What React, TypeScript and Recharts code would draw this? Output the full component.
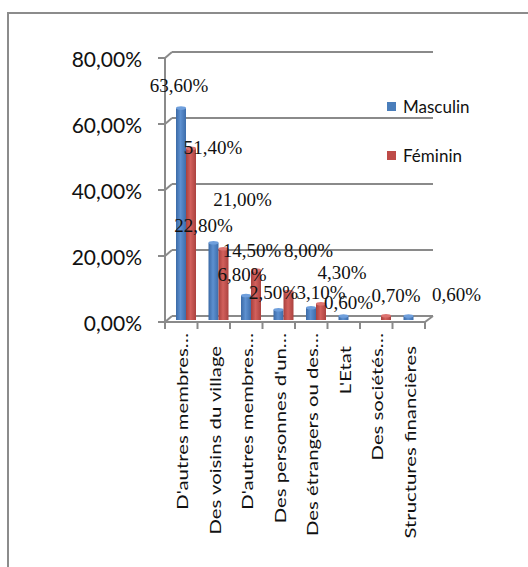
import { Bar, BarChart, CartesianGrid, LabelList, Legend, XAxis, YAxis } from "recharts";

const categories = [
  "D'autres membres…",
  "Des voisins du village",
  "D'autres membres…",
  "Des personnes d'un…",
  "Des étrangers ou des…",
  "L'Etat",
  "Des sociétés…",
  "Structures financières",
];
const masculin = [63.6, 22.8, 6.8, 2.5, 3.1, 0.6, 0, 0.6];
const feminin = [51.4, 21.0, 14.5, 8.0, 4.3, 0, 0.7, 0];
const yTicks = [0, 20, 40, 60, 80];

// excel pushed the data labels around; offsets of label centre from bar top
const masculinLabelShift = [[-2, -23], [-10, -17], [-4, -21], [-5, -17], [10, -15], [5, -14], [0, 0], [48, -22]];
const femininLabelShift = [[22, -1], [19, -49], [-4, -20], [20, -41], [21, -31], [0, 0], [10, -20], [0, 0]];

const data = categories.map((name, i) => ({ name, masculin: masculin[i], feminin: feminin[i] }));

const W = 528;
const H = 567;
const margin = { top: 54, right: 103, bottom: 0, left: 0 };
const Y_AXIS_W = 165;
const PLOT_L = margin.left + Y_AXIS_W;
const PLOT_R = W - margin.right;
const PLOT_B = 318;
const BAND = (PLOT_R - PLOT_L) / categories.length;
const DEPTH_X = 7;
const BACK = -2;
const FRONT = 4;
const GRID = "#8a8a8a";
const BLUE = "#4a7ebb";
const RED = "#be4b48";

const fmt = (v: number) => v.toFixed(2).replace(".", ",") + "%";

const backLine = (p: any) => (
  <line
    key={`grid-${p.index}-${p.y1}`}
    x1={p.x1 + DEPTH_X}
    y1={p.y1 + BACK}
    x2={p.x2 + DEPTH_X + 1}
    y2={p.y2 + BACK}
    stroke={GRID}
    strokeWidth={2}
  />
);

function YTick({ y, payload }: any) {
  const v = payload.value;
  return (
    <g>
      <line x1={PLOT_L - 7} y1={y + FRONT} x2={PLOT_L} y2={y + FRONT} stroke={GRID} strokeWidth={2} />
      <line x1={PLOT_L} y1={y + FRONT} x2={PLOT_L + DEPTH_X} y2={y + BACK} stroke={GRID} strokeWidth={2} />
      {v === 80 && <line x1={PLOT_L} y1={y + FRONT} x2={PLOT_L} y2={PLOT_B + FRONT} stroke={GRID} strokeWidth={2} />}
      {v === 0 && (
        <>
          <line x1={PLOT_L} y1={y + FRONT} x2={PLOT_R} y2={y + FRONT} stroke={GRID} strokeWidth={2} />
          <line x1={PLOT_R} y1={y + FRONT} x2={PLOT_R + DEPTH_X + 1} y2={y + BACK} stroke={GRID} strokeWidth={2} />
        </>
      )}
      <text x={PLOT_L - 23} y={y + 13} textAnchor="end" fontFamily="Lato" fontSize={21} fill="#111">
        {fmt(v)}
      </text>
    </g>
  );
}

function XTick({ x, index, payload }: any) {
  const label: string = payload.value;
  const top = label.endsWith("…") ? 333 : 346;
  return (
    <g>
      <line x1={x - BAND / 2} y1={PLOT_B + FRONT} x2={x - BAND / 2} y2={PLOT_B + FRONT + 7} stroke={GRID} strokeWidth={2} />
      {index === categories.length - 1 && (
        <line x1={x + BAND / 2} y1={PLOT_B + FRONT} x2={x + BAND / 2} y2={PLOT_B + FRONT + 7} stroke={GRID} strokeWidth={2} />
      )}
      <text
        x={0}
        y={0}
        transform={`translate(${x + 1} ${top}) rotate(-90) scale(1.31 1)`}
        textAnchor="end"
        dominantBaseline="central"
        fontFamily="Lato"
        fontSize={15.5}
        fill="#111"
      >
        {label}
      </text>
    </g>
  );
}

const cylinder = (grad: string, cap: string) => (p: any) => {
  const { x, y, width, height } = p;
  if (!height || height <= 0) return <g />;
  const bx = x + 5;
  return (
    <g>
      <rect x={bx} y={y} width={width} height={height + 2} fill={`url(#${grad})`} />
      <ellipse cx={bx + width / 2} cy={y} rx={width / 2} ry={1.8} fill={cap} />
    </g>
  );
};

const makeLabel = (shift: number[][]) => (p: any) => {
  const { x, y, width, value, index } = p;
  if (!value) return null;
  const [dx, dy] = shift[index];
  return (
    <text
      key={`lbl-${index}`}
      x={x + width / 2 + 5 + dx}
      y={y + dy + 6.5}
      textAnchor="middle"
      fontFamily="Liberation Serif"
      fontSize={19}
      fill="#111"
    >
      {fmt(value)}
    </text>
  );
};

function LegendBox() {
  const items = [
    { name: "Masculin", color: BLUE },
    { name: "Féminin", color: RED },
  ];
  return (
    <div style={{ fontFamily: "Lato", fontSize: 17, color: "#111" }}>
      {items.map((it) => (
        <div key={it.name} style={{ display: "flex", alignItems: "center", height: 20, marginBottom: 29 }}>
          <span style={{ width: 9, height: 9, background: it.color, marginLeft: 2, marginRight: 7 }} />
          <span>{it.name}</span>
        </div>
      ))}
    </div>
  );
}

export default function App() {
  return (
    <div style={{ position: "absolute", left: 0, top: 0, width: W, height: H, overflow: "hidden", background: "#fff" }}>
      <div
        style={{
          position: "absolute",
          left: 7,
          top: 12,
          width: 560,
          height: 600,
          border: "2px solid #8c8c8c",
        }}
      />
      <div style={{ position: "absolute", left: 0, top: 0 }}>
        <BarChart width={W} height={H} data={data} margin={margin} barGap={0} barSize={10}>
          <defs>
            <linearGradient id="gBlue" x1="0" y1="0" x2="1" y2="0">
              <stop offset="0" stopColor="#3b6aa6" />
              <stop offset="0.45" stopColor="#5d90d0" />
              <stop offset="1" stopColor="#3d6dab" />
            </linearGradient>
            <linearGradient id="gRed" x1="0" y1="0" x2="1" y2="0">
              <stop offset="0" stopColor="#a8403d" />
              <stop offset="0.45" stopColor="#d2605c" />
              <stop offset="1" stopColor="#ab423f" />
            </linearGradient>
          </defs>
          <CartesianGrid vertical={false} horizontal={backLine} />
          <XAxis
            dataKey="name"
            interval={0}
            axisLine={false}
            tickLine={false}
            tickSize={0}
            tickMargin={0}
            height={H - PLOT_B - margin.bottom}
            tick={<XTick />}
          />
          <YAxis
            domain={[0, 80]}
            ticks={yTicks}
            interval={0}
            width={Y_AXIS_W}
            axisLine={false}
            tickLine={false}
            tickSize={0}
            tickMargin={0}
            tick={<YTick />}
          />
          <Legend
            layout="vertical"
            align="center"
            verticalAlign="middle"
            wrapperStyle={{ left: 385, top: 96, width: 130 }}
            content={() => <LegendBox />}
          />
          <Bar dataKey="masculin" name="Masculin" fill={BLUE} isAnimationActive={false} shape={cylinder("gBlue", "#6f9fdc")}>
            <LabelList dataKey="masculin" content={makeLabel(masculinLabelShift)} />
          </Bar>
          <Bar dataKey="feminin" name="Féminin" fill={RED} isAnimationActive={false} shape={cylinder("gRed", "#dc7370")}>
            <LabelList dataKey="feminin" content={makeLabel(femininLabelShift)} />
          </Bar>
        </BarChart>
      </div>
    </div>
  );
}
